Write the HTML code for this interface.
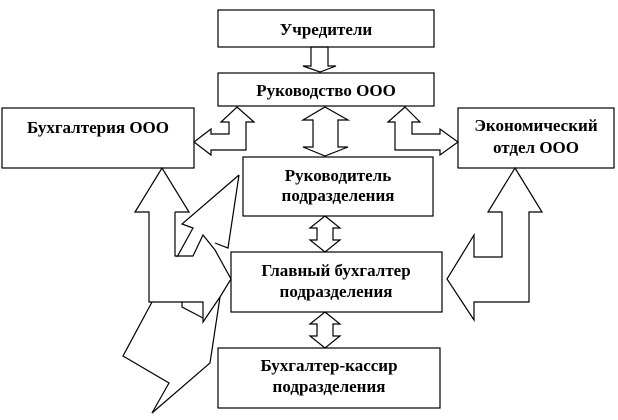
<!DOCTYPE html><html><head><style>body{margin:0;background:#fff}svg{display:block}text{font-family:"Liberation Serif","DejaVu Serif",serif;font-weight:bold;font-size:17px;text-anchor:middle}</style></head><body>
<svg width="618" height="420" viewBox="0 0 618 420" fill="none" stroke="#000" stroke-width="1.2">
<rect x="218" y="10" width="216" height="37"/>
<rect x="218" y="73" width="216" height="33"/>
<rect x="2" y="108" width="192" height="60"/>
<rect x="458" y="108" width="156" height="60"/>
<rect x="243" y="157" width="190" height="59"/>
<rect x="231" y="252" width="211" height="60"/>
<rect x="218" y="348" width="222" height="60"/>
<g fill="#000" stroke="none">
<text x="326" y="35">Учредители</text>
<text x="326" y="96">Руководство ООО</text>
<text x="98" y="133">Бухгалтерия ООО</text>
<text x="536" y="131">Экономический</text>
<text x="536" y="153">отдел ООО</text>
<text x="338" y="181">Руководитель</text>
<text x="338" y="201">подразделения</text>
<text x="336" y="276">Главный бухгалтер</text>
<text x="336" y="297">подразделения</text>
<text x="329" y="371">Бухгалтер-кассир</text>
<text x="329" y="392">подразделения</text>
</g>
<polygon points="311,47 328,47 328,66 336,66 320,72 303,66 311,66"/>
<polygon points="325,107 348,120 338,120 338,147 348,147 325,156 303,147 313,147 313,120 303,120"/>
<polygon points="325,216 340,228 333,228 333,240 340,240 325,252 310,240 317,240 317,228 310,228"/>
<polygon points="325,312 340,324 333,324 333,336 340,336 325,348 310,336 317,336 317,324 310,324"/>
<polygon points="237,107 254,122 246,122 246,150 211,150 211,155 194,142 211,129 211,134 229,134 229,122 221,122"/>
<polygon points="405,107 420,122 412,122 412,134 440,134 440,129 458,142 440,155 440,150 395,150 395,122 388,122"/>
<polygon points="515,168 542,212 529,212 529,302 474,302 474,320 447,279 474,235 474,257 502,257 502,212 488,212"/>
<polyline points="175,212 189,212 162,168 135,212 149,212 149,302 203,302 203,322 220,297 231,279 215,250 203,235 193,256 175,256 175,212"/>
<polyline points="239,175 182,224 193,228 177,257"/>
<polyline points="239,175 228,248 215,243"/>
<polyline points="182,302 182,307 203,318"/>
<polyline points="152,302 123,356 169,383 152,413 210,363 220,297"/>
</svg></body></html>
